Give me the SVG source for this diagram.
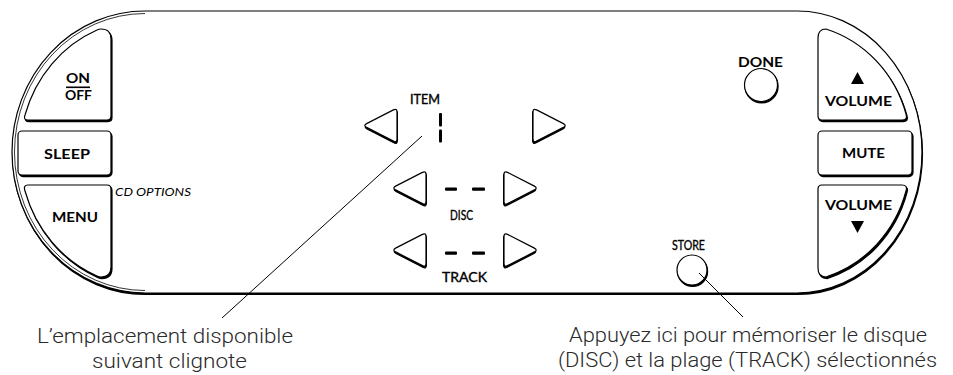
<svg xmlns="http://www.w3.org/2000/svg" width="953" height="375" viewBox="0 0 953 375">
<style>
.sh{fill:#000;stroke:#000;stroke-width:1.2;stroke-linejoin:round}
.bt{fill:#fff;stroke:#000;stroke-width:1.2;stroke-linejoin:round}
.lb{font-family:Lato,"Open Sans","Liberation Sans",sans-serif;font-weight:700;font-size:13px;fill:#000;text-anchor:middle}
.lm{font-family:Lato,"Open Sans","Liberation Sans",sans-serif;font-weight:400;font-size:12.5px;fill:#000;stroke:#000;stroke-width:0.35;text-anchor:middle}
.it{font-family:Lato,"Open Sans","Liberation Sans",sans-serif;font-style:italic;font-size:12px;fill:#000}
.cap{font-family:Roboto,"Liberation Sans",Arial,sans-serif;font-weight:300;font-size:21px;fill:#2a2a2a;text-anchor:middle}
.ln{stroke:#000;stroke-width:1;fill:none}
.seg{fill:#000}
</style>
<defs>
<path id="la" d="M 3.6,-1.9 L 30.4,-15.6 Q 34,-17.5 34,-13.5 L 34,13.5 Q 34,17.5 30.4,15.6 L 3.6,1.9 Q 0,0 3.6,-1.9 Z"/>
<g id="arrow"><use href="#la" class="sh" transform="translate(0.4,1.6)"/><use href="#la" class="bt"/></g>
</defs>

<g id="panel">
<path class="sh" transform="translate(0.5,1.5)" d="M 145,11 H 797 A 125 141 0 0 1 797,293 H 145 A 133 141 0 0 1 145,11 Z"/>
<path class="bt" d="M 145,11 H 797 A 125 141 0 0 1 797,293 H 145 A 133 141 0 0 1 145,11 Z"/>
<path fill="none" stroke="#000" stroke-width="0.8" d="M 145,13.5 A 130.5 138.5 0 0 0 145,290.5"/>
</g>

<g id="btn-onoff">
<path class="sh" transform="translate(1,1.6)" d="M 101,29 Q 111,29 111,39 V 116 Q 111,120 107,120 H 28 Q 23,120 25,115 A 125 133 0 0 1 97,30 Q 99,29 101,29 Z"/>
<path class="bt" d="M 101,29 Q 111,29 111,39 V 116 Q 111,120 107,120 H 28 Q 23,120 25,115 A 125 133 0 0 1 97,30 Q 99,29 101,29 Z"/>
<text class="lb" x="78" y="83" textLength="24" lengthAdjust="spacingAndGlyphs">ON</text>
<rect x="66" y="86.5" width="24" height="1.6" fill="#000"/>
<text class="lb" x="78.5" y="100" textLength="27" lengthAdjust="spacingAndGlyphs">OFF</text>
</g>

<g id="btn-sleep">
<rect class="sh" x="19" y="132.6" width="93" height="44" rx="4"/>
<rect class="bt" x="18" y="131" width="93" height="44" rx="4"/>
<text class="lb" x="67" y="159" textLength="46" lengthAdjust="spacingAndGlyphs">SLEEP</text>
</g>

<g id="btn-menu">
<path class="sh" transform="translate(1,1.6)" d="M 28,185 H 107 Q 111,185 111,189 V 267 Q 111,277 101,277 Q 99,277 97,276 A 125 133 0 0 1 25,191 Q 23,185 28,185 Z"/>
<path class="bt" d="M 28,185 H 107 Q 111,185 111,189 V 267 Q 111,277 101,277 Q 99,277 97,276 A 125 133 0 0 1 25,191 Q 23,185 28,185 Z"/>
<text class="lb" x="75" y="222" textLength="46" lengthAdjust="spacingAndGlyphs">MENU</text>
</g>

<g id="cd-options">
<text class="it" x="115" y="196" textLength="76" lengthAdjust="spacingAndGlyphs">CD OPTIONS</text>
</g>

<g id="btn-done">
<text class="lb" x="760.5" y="67" textLength="45" lengthAdjust="spacingAndGlyphs">DONE</text>
<circle class="sh" cx="761.6" cy="86.4" r="16.5"/>
<circle class="bt" cx="761" cy="85" r="16.5"/>
</g>

<g id="btn-volup">
<path class="sh" transform="translate(1,1.6)" d="M 818,38 Q 818,29 826,29 A 120 125 0 0 1 906,114 Q 908,120 902,120 H 822 Q 818,120 818,116 Z"/>
<path class="bt" d="M 818,38 Q 818,29 826,29 A 120 125 0 0 1 906,114 Q 908,120 902,120 H 822 Q 818,120 818,116 Z"/>
<polygon points="851,84 864,84 857.5,72" fill="#000"/>
<text class="lb" x="858.5" y="106" textLength="67" lengthAdjust="spacingAndGlyphs">VOLUME</text>
</g>

<g id="btn-mute">
<rect class="sh" x="819" y="132.6" width="94" height="44" rx="4"/>
<rect class="bt" x="818" y="131" width="94" height="44" rx="4"/>
<text class="lb" x="863.5" y="158" textLength="43" lengthAdjust="spacingAndGlyphs">MUTE</text>
</g>

<g id="btn-voldown">
<path class="sh" transform="translate(1,1.6)" d="M 822,185 H 902 Q 908,185 906,191 A 120 125 0 0 1 826,277 Q 818,277 818,268 V 189 Q 818,185 822,185 Z"/>
<path class="bt" d="M 822,185 H 902 Q 908,185 906,191 A 120 125 0 0 1 826,277 Q 818,277 818,268 V 189 Q 818,185 822,185 Z"/>
<text class="lb" x="858.5" y="210" textLength="67" lengthAdjust="spacingAndGlyphs">VOLUME</text>
<polygon points="851,221 864,221 857.5,233" fill="#000"/>
</g>

<g id="item">
<text class="lm" x="425" y="104" textLength="30" lengthAdjust="spacingAndGlyphs">ITEM</text>
<use href="#arrow" transform="translate(363,125.5)"/>
<use href="#arrow" transform="translate(567,125.5) scale(-1,1)"/>
<rect class="seg" x="439" y="113" width="3" height="13.5" rx="1"/>
<rect class="seg" x="439" y="129.5" width="3" height="13" rx="1"/>
</g>

<g id="disc">
<use href="#arrow" transform="translate(392,188)"/>
<use href="#arrow" transform="translate(538,188) scale(-1,1)"/>
<rect class="seg" x="445" y="187.5" width="12" height="3.2" rx="1"/>
<rect class="seg" x="472" y="187.5" width="13" height="3.2" rx="1"/>
<text class="lm" x="461.5" y="220" textLength="23" lengthAdjust="spacingAndGlyphs">DISC</text>
</g>

<g id="track">
<use href="#arrow" transform="translate(392,250)"/>
<use href="#arrow" transform="translate(538,250) scale(-1,1)"/>
<rect class="seg" x="445" y="251.5" width="12" height="3.2" rx="1"/>
<rect class="seg" x="472" y="251.5" width="13" height="3.2" rx="1"/>
<text class="lm" x="464.5" y="282" textLength="45" lengthAdjust="spacingAndGlyphs">TRACK</text>
</g>

<g id="btn-store">
<text class="lm" x="688.5" y="250" textLength="33" lengthAdjust="spacingAndGlyphs">STORE</text>
<circle class="sh" cx="692.6" cy="271.4" r="15"/>
<circle class="bt" cx="692" cy="270" r="15"/>
</g>

<g id="connectors">
<line class="ln" x1="422" y1="136" x2="222" y2="318"/>
<line class="ln" x1="699" y1="273" x2="743" y2="317"/>
</g>

<g id="note-left">
<text class="cap" x="165" y="343" textLength="256" lengthAdjust="spacingAndGlyphs">L’emplacement disponible</text>
<text class="cap" x="169.5" y="368" textLength="155" lengthAdjust="spacingAndGlyphs">suivant clignote</text>
</g>

<g id="note-right">
<text class="cap" x="748" y="342" textLength="358" lengthAdjust="spacingAndGlyphs">Appuyez ici pour mémoriser le disque</text>
<text class="cap" x="747.5" y="367" textLength="379" lengthAdjust="spacingAndGlyphs">(DISC) et la plage (TRACK) sélectionnés</text>
</g>
</svg>
